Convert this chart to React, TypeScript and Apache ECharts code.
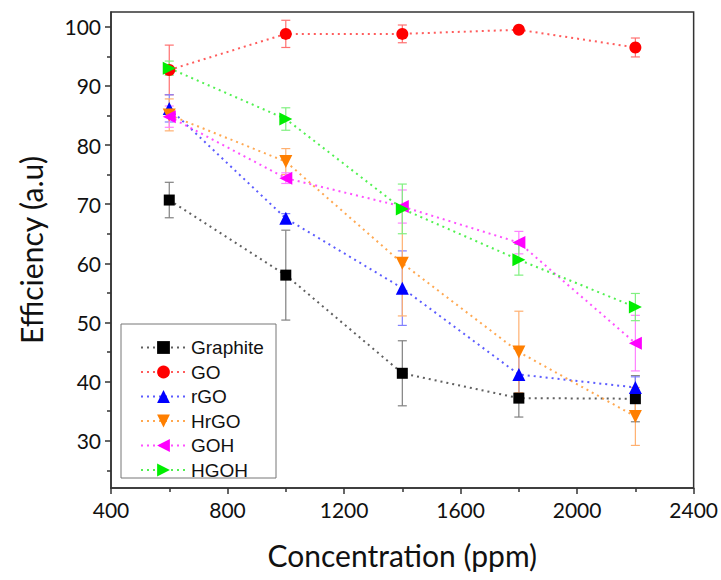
import React, { useEffect, useRef } from "react";
import * as echarts from "echarts";

const concentrations = [600, 1000, 1400, 1800, 2200];

const seriesNames = ["Graphite", "GO", "rGO", "HrGO", "GOH", "HGOH"];

const graphite = [70.7, 58.0, 41.4, 37.2, 37.1];
const graphiteErr = [3.0, 7.6, 5.5, 3.2, 3.9];

const go = [92.7, 98.8, 98.8, 99.5, 96.5];
const goErr = [4.2, 2.3, 1.5, 0.5, 1.6];

const rgo = [86.2, 67.6, 55.8, 41.2, 39.0];
const rgoErr = [2.3, 0.8, 6.3, 4.5, 1.8];

const hrgo = [85.1, 77.2, 60.0, 45.0, 34.1];
const hrgoErr = [2.7, 2.2, 8.9, 6.9, 4.9];

const goh = [84.8, 74.4, 69.6, 63.5, 46.5];
const gohErr = [1.8, 0.9, 2.8, 1.9, 4.7];

const hgoh = [93.0, 84.4, 69.2, 60.6, 52.6];
const hgohErr = [1.2, 1.9, 4.2, 2.6, 2.3];

const yTickLabels = [30, 40, 50, 60, 70, 80, 90, 100];
const yMinorTicks = [25, 35, 45, 55, 65, 75, 85, 95];

const values = [graphite, go, rgo, hrgo, goh, hgoh];
const errors = [graphiteErr, goErr, rgoErr, hrgoErr, gohErr, hgohErr];

const markerColors = ["#000000", "#ff0000", "#0000ff", "#ff7f00", "#ff00ff", "#00ee00"];
const lineColors = ["#444444", "#ff4040", "#4040ff", "#ff9933", "#ff33ff", "#33ee33"];
const errColors = ["#808080", "#ff7070", "#8080ff", "#ffb070", "#ff80ff", "#80f080"];
const symbols = ["rect", "circle", "triangle", "triangle", "triangle", "triangle"];
const symbolRotates = [0, 0, 0, 180, 90, -90];
const symbolSizes = [11, 12, 13, 13, 13, 13];

export default function App() {
  const ref = useRef<HTMLDivElement>(null);

  useEffect(() => {
    if (!ref.current) return;
    const chart = echarts.init(ref.current, null, { renderer: "svg" });

    const errorSeries = seriesNames.map((name, si) => ({
      type: "custom",
      name: name + "_err",
      z: 1,
      silent: true,
      data: concentrations.map((x, i) => [x, values[si][i] - errors[si][i], values[si][i] + errors[si][i]]),
      renderItem: (params: any, api: any) => {
        const x = api.value(0);
        const lo = api.coord([x, api.value(1)]);
        const hi = api.coord([x, api.value(2)]);
        const hw = 4.5;
        const style = { stroke: errColors[si], lineWidth: 1.2 };
        return {
          type: "group",
          children: [
            { type: "line", shape: { x1: lo[0], y1: lo[1], x2: hi[0], y2: hi[1] }, style },
            { type: "line", shape: { x1: lo[0] - hw, y1: lo[1], x2: lo[0] + hw, y2: lo[1] }, style },
            { type: "line", shape: { x1: hi[0] - hw, y1: hi[1], x2: hi[0] + hw, y2: hi[1] }, style },
          ],
        };
      },
    }));

    const lineSeries = seriesNames.map((name, si) => ({
      type: "line",
      name,
      z: 3,
      data: concentrations.map((x, i) => [x, values[si][i]]),
      symbol: symbols[si],
      symbolSize: symbolSizes[si],
      symbolRotate: symbolRotates[si],
      itemStyle: { color: markerColors[si] },
      lineStyle: { color: lineColors[si], width: 2, type: [2, 4], opacity: 0.85 },
    }));

    const labelFont = { fontFamily: "Lato", fontSize: 21, color: "#111" };

    chart.setOption({
      animation: false,
      backgroundColor: "#ffffff",
      grid: {
        left: 111,
        right: 19,
        top: 12,
        bottom: 92,
        show: true,
        borderColor: "#333",
        borderWidth: 1.5,
        backgroundColor: "transparent",
      },
      graphic: [
        {
          type: "rect",
          z: 10,
          shape: { x: 121, y: 324, width: 155, height: 154 },
          style: { fill: "#ffffff", stroke: "#777", lineWidth: 1 },
        },
      ],
      legend: {
        data: seriesNames,
        orient: "vertical",
        left: 140,
        top: 338,
        padding: 0,
        itemWidth: 45,
        itemHeight: 16,
        itemGap: 5.5,
        z: 20,
        textStyle: { fontFamily: "Liberation Sans", fontSize: 19, color: "#111" },
      },
      xAxis: {
        type: "value",
        min: 400,
        max: 2400,
        interval: 400,
        name: "Concentration (ppm)",
        nameLocation: "middle",
        nameGap: 52,
        nameTextStyle: { fontFamily: "Lato", fontSize: 30, color: "#111" },
        axisLine: { show: true, lineStyle: { color: "#333", width: 1.5 } },
        axisTick: { show: true, inside: false, length: 6, lineStyle: { color: "#333", width: 1.5 } },
        minorTick: { show: true, splitNumber: 2, length: 4, lineStyle: { color: "#333", width: 1.5 } },
        axisLabel: { ...labelFont, margin: 11, formatter: (v: number) => String(v) },
        splitLine: { show: false },
      },
      yAxis: [
        {
          type: "value",
          min: 22,
          max: 102.5,
          name: "Efficiency (a.u)",
          nameLocation: "middle",
          nameGap: 65,
          nameTextStyle: { fontFamily: "Lato", fontSize: 30, color: "#111" },
          axisLine: { show: true, lineStyle: { color: "#333", width: 1.5 } },
          axisTick: { show: true, length: 6, customValues: yTickLabels, lineStyle: { color: "#333", width: 1.5 } },
          axisLabel: { ...labelFont, margin: 10, customValues: yTickLabels, formatter: (v: number) => String(v) },
          splitLine: { show: false },
        },
        {
          type: "value",
          min: 22,
          max: 102.5,
          position: "left",
          axisLine: { show: false },
          axisTick: { show: true, length: 4, customValues: yMinorTicks, lineStyle: { color: "#333", width: 1.5 } },
          axisLabel: { show: false, customValues: yMinorTicks },
          splitLine: { show: false },
        },
      ],
      series: [...errorSeries, ...lineSeries],
    });

    return () => chart.dispose();
  }, []);

  return (
    <div
      ref={ref}
      style={{ position: "fixed", left: 0, top: 0, width: 721, height: 580 }}
    />
  );
}
